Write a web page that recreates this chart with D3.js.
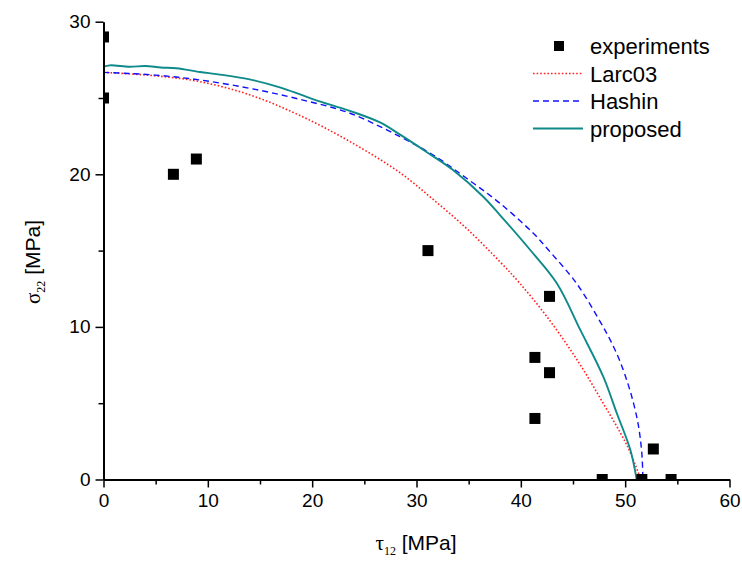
<!DOCTYPE html>
<html><head><meta charset="utf-8">
<script src="https://cdn.jsdelivr.net/npm/d3@7"></script>
<style>body{margin:0;background:#fff}svg text{font-family:"Liberation Sans",Arial,sans-serif}</style>
</head><body>
<svg id="c" width="742" height="563"></svg>
<script>
const expX = [0, 0, 6.7, 8.9, 31.1, 42.75, 41.35, 42.75, 41.35, 52.7, 47.8, 51.6, 54.4];
const expY = [29, 25, 20, 21, 15, 12, 8, 7, 4, 2, 0, 0, 0];
const larcX = [0, 5, 9.25, 14.05, 18.84, 23.63, 28.43, 31.6, 34.8, 38, 39.9, 42.5, 45.4, 47.9, 50.2, 51.5];
const larcY = [26.68, 26.45, 26.07, 25.2, 23.85, 22.14, 20.1, 18.35, 16.45, 14.27, 12.86, 10.67, 7.83, 4.99, 2.2, 0];
const hashX = [0, 5, 9.25, 14.05, 18.84, 23.63, 28.43, 31.6, 34.8, 38, 41.2, 42.65, 45.37, 47.6, 48.6, 49.5, 50.3, 50.8, 51.2, 51.44, 51.62, 51.7];
const hashY = [26.68, 26.5, 26.18, 25.63, 24.91, 24.0, 22.46, 21.26, 19.74, 18.1, 16.13, 15.04, 12.82, 10.35, 9.1, 7.75, 6.2, 5.0, 3.8, 2.75, 1.5, 0];
const propX = [0, 0.6, 2.5, 4, 5.5, 7, 9.25, 11, 14, 16.9, 18.84, 20.4, 23.63, 26.5, 28.43, 31, 33.5, 36.4, 38, 40.9, 43.45, 45.7, 47.9, 49.2, 50.5, 51.1];
const propY = [27.05, 27.14, 27.05, 27.1, 27.0, 26.95, 26.7, 26.55, 26.22, 25.7, 25.24, 24.85, 24.15, 23.4, 22.6, 21.45, 20.28, 18.53, 17.33, 15.04, 12.86, 9.8, 6.74, 4.34, 1.93, 0];
const xTicks = [0, 10, 20, 30, 40, 50, 60];
const yTicks = [0, 10, 20, 30];
const legendLabels = ["experiments", "Larc03", "Hashin", "proposed"];

const svg = d3.select("#c");
const L = 103.5, R = 729.5, T = 21.7, B = 479.5;
const x = d3.scaleLinear().domain([0, 60]).range([L, R]);
const y = d3.scaleLinear().domain([0, 30]).range([B, T]);

svg.append("defs").append("clipPath").attr("id", "clip")
  .append("rect").attr("x", L).attr("y", T - 5).attr("width", R - L + 5).attr("height", B - T + 5);

const g = svg.append("g").attr("clip-path", "url(#clip)");
const line = d3.line().x(d => x(d[0])).y(d => y(d[1])).curve(d3.curveCatmullRom.alpha(0.5));

function pts(a, b) { return a.map((v, i) => [v, b[i]]); }

g.append("path").attr("d", line(pts(larcX, larcY))).attr("fill", "none")
  .attr("stroke", "#ff2020").attr("stroke-width", 1.6).attr("stroke-dasharray", "1.6,2");
g.append("path").attr("d", line(pts(hashX, hashY))).attr("fill", "none")
  .attr("stroke", "#1010ff").attr("stroke-width", 1.4).attr("stroke-dasharray", "6,4");
g.append("path").attr("d", line(pts(propX, propY))).attr("fill", "none")
  .attr("stroke", "#0f8a8a").attr("stroke-width", 1.9);

const s = 11;
g.selectAll("rect.exp").data(pts(expX, expY)).enter().append("rect")
  .attr("x", d => x(d[0]) - s / 2).attr("y", d => y(d[1]) - s / 2)
  .attr("width", s).attr("height", s).attr("fill", "#000");

// axes
const xAxisG = svg.append("g").attr("transform", `translate(0,${B})`);
xAxisG.call(d3.axisBottom(x).tickValues(xTicks).tickSize(8).tickSizeOuter(0).tickPadding(6).tickFormat(d3.format("d")));
const xMinor = svg.append("g").attr("transform", `translate(0,${B})`);
xMinor.call(d3.axisBottom(x).tickValues(d3.range(5, 60, 10)).tickSize(5).tickSizeOuter(0).tickFormat(""));
xMinor.select(".domain").remove();

const yAxisG = svg.append("g").attr("transform", `translate(${L},0)`);
yAxisG.call(d3.axisLeft(y).tickValues(yTicks).tickSize(8).tickSizeOuter(0).tickPadding(5).tickFormat(d3.format("d")));
const yMinor = svg.append("g").attr("transform", `translate(${L},0)`);
yMinor.call(d3.axisLeft(y).tickValues(d3.range(5, 30, 10)).tickSize(5).tickSizeOuter(0).tickFormat(""));
yMinor.select(".domain").remove();

svg.selectAll(".domain").attr("stroke", "#000").attr("stroke-width", 2);
svg.selectAll(".tick line").attr("stroke", "#000").attr("stroke-width", 1.5);
svg.selectAll(".tick text").attr("font-size", 19).attr("fill", "#000")
  .attr("font-family", "'Liberation Sans', Arial, sans-serif");

// axis titles
const xt = svg.append("text").attr("x", 416).attr("y", 550).attr("text-anchor", "middle")
  .attr("font-size", 21).attr("fill", "#000");
xt.append("tspan").attr("font-family", "'Liberation Serif', serif").text("τ");
xt.append("tspan").attr("font-family", "'Liberation Serif', serif").attr("font-size", 12).attr("dy", 5).text("12");
xt.append("tspan").attr("dy", -5).text(" [MPa]");

const yt = svg.append("text").attr("transform", `translate(40,262) rotate(-90)`).attr("text-anchor", "middle")
  .attr("font-size", 21).attr("fill", "#000");
yt.append("tspan").attr("font-family", "'Liberation Serif', serif").text("σ");
yt.append("tspan").attr("font-family", "'Liberation Serif', serif").attr("font-size", 12).attr("dy", 5).text("22");
yt.append("tspan").attr("dy", -5).text(" [MPa]");

// legend
const lg = svg.append("g");
const ly = [46, 73.5, 101, 128.5];
lg.append("rect").attr("x", 559 - 5).attr("y", ly[0] - 5).attr("width", 10).attr("height", 10).attr("fill", "#000");
lg.append("line").attr("x1", 533).attr("x2", 583).attr("y1", ly[1]).attr("y2", ly[1])
  .attr("stroke", "#ff2020").attr("stroke-width", 1.6).attr("stroke-dasharray", "1.6,2");
lg.append("line").attr("x1", 533).attr("x2", 583).attr("y1", ly[2]).attr("y2", ly[2])
  .attr("stroke", "#1010ff").attr("stroke-width", 1.4).attr("stroke-dasharray", "6,4");
lg.append("line").attr("x1", 533).attr("x2", 583).attr("y1", ly[3]).attr("y2", ly[3])
  .attr("stroke", "#0f8a8a").attr("stroke-width", 1.9);
lg.selectAll("text").data(legendLabels).enter().append("text")
  .attr("x", 590).attr("y", (d, i) => ly[i] + 8).attr("font-size", 22).attr("fill", "#000").text(d => d);
</script>
</body></html>
